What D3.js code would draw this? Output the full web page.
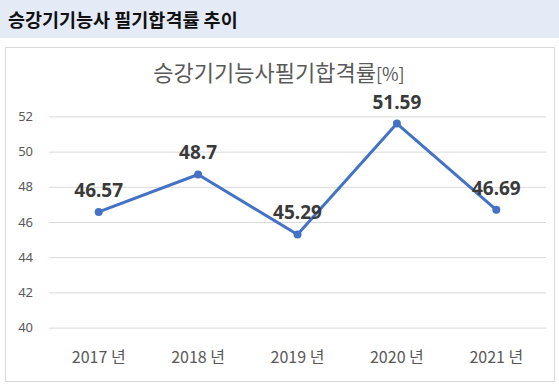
<!DOCTYPE html>
<html>
<head>
<meta charset="utf-8">
<script src="https://cdn.jsdelivr.net/npm/d3@7"></script>
<style>
  body { margin:0; background:#fff; font-family:'Noto Sans CJK KR','Noto Sans',sans-serif; }
  #canvas { width:559px; height:389px; }
</style>
</head>
<body>
<div id="canvas" class="canvas"></div>
<script>
// data
var years = ['2017 년','2018 년','2019 년','2020 년','2021 년'];
var passRates = [46.57, 48.7, 45.29, 51.59, 46.69];
var labels = ['46.57','48.7','45.29','51.59','46.69'];
var yTicks = [40,42,44,46,48,50,52];

var W = 559, H = 389;
var m = {t:116, r:13, b:61, l:49};

var svg = d3.select('.canvas')
    .append('svg')
    .attr('width',W)
    .attr('height',H);

// header band
svg.append('rect')
    .attr('x',0).attr('y',0)
    .attr('width',W).attr('height',38)
    .attr('fill','#e4ebf6');
svg.append('text')
    .attr('x',8).attr('y',27)
    .attr('font-size',18.5)
    .attr('font-weight','bold')
    .attr('fill','#111')
    .text('승강기기능사 필기합격률 추이');

// chart frame
svg.append('rect')
    .attr('x',5.5).attr('y',47.5)
    .attr('width',549).attr('height',334)
    .attr('fill','#fff')
    .attr('stroke','#d9d9d9');

var title = svg.append('text')
    .attr('x',279).attr('y',81)
    .attr('text-anchor','middle')
    .attr('font-size',22)
    .attr('fill','#595959');
title.append('tspan').text('승강기기능사필기합격률');
title.append('tspan').attr('font-size',18).text('[%]');

var scaleX = d3.scaleBand()
    .domain(years)
    .range([m.l, W - m.r]);
var scaleY = d3.scaleLinear()
    .domain([40,52])
    .range([327.6, 116.4]);

var axisY = d3.axisLeft(scaleY)
    .tickValues(yTicks)
    .tickSize(-(W - m.r - m.l))
    .tickPadding(16);

var gy = svg.append('g')
    .attr('transform','translate(' + m.l + ',0)')
    .call(axisY);
gy.select('.domain').remove();
gy.selectAll('line').attr('stroke','#d9d9d9');
gy.selectAll('text')
    .attr('font-size',13)
    .attr('fill','#595959')
    .attr('font-family','\'Noto Sans\',sans-serif');

var axisX = d3.axisBottom(scaleX).tickSize(0).tickPadding(24);
var gx = svg.append('g')
    .attr('transform','translate(0,' + scaleY(40) + ')')
    .call(axisX);
gx.select('.domain').remove();
gx.selectAll('text')
    .attr('font-size',16)
    .attr('fill','#595959')
    .attr('font-family','\'Noto Sans CJK KR\',sans-serif');

var cx = function(d,i){ return scaleX(years[i]) + scaleX.bandwidth()/2; };

var line = d3.line()
    .x(function(d,i){ return cx(d,i); })
    .y(function(d){ return scaleY(d); });

svg.append('path')
    .datum(passRates)
    .attr('d',line)
    .attr('fill','none')
    .attr('stroke','#4472c4')
    .attr('stroke-width',3)
    .attr('stroke-linejoin','round');

svg.selectAll('.dot')
    .data(passRates)
    .enter()
    .append('circle')
    .attr('class','dot')
    .attr('cx',cx)
    .attr('cy',function(d){ return scaleY(d); })
    .attr('r',4)
    .attr('fill','#4472c4');

svg.selectAll('.lbl')
    .data(passRates)
    .enter()
    .append('text')
    .attr('class','lbl')
    .attr('x',cx)
    .attr('y',function(d){ return scaleY(d) - 15; })
    .attr('text-anchor','middle')
    .attr('font-size',19)
    .attr('font-weight','bold')
    .attr('fill','#3a3a3a')
    .attr('font-family','\'Noto Sans\',sans-serif')
    .text(function(d,i){ return labels[i]; });
</script>
</body>
</html>
